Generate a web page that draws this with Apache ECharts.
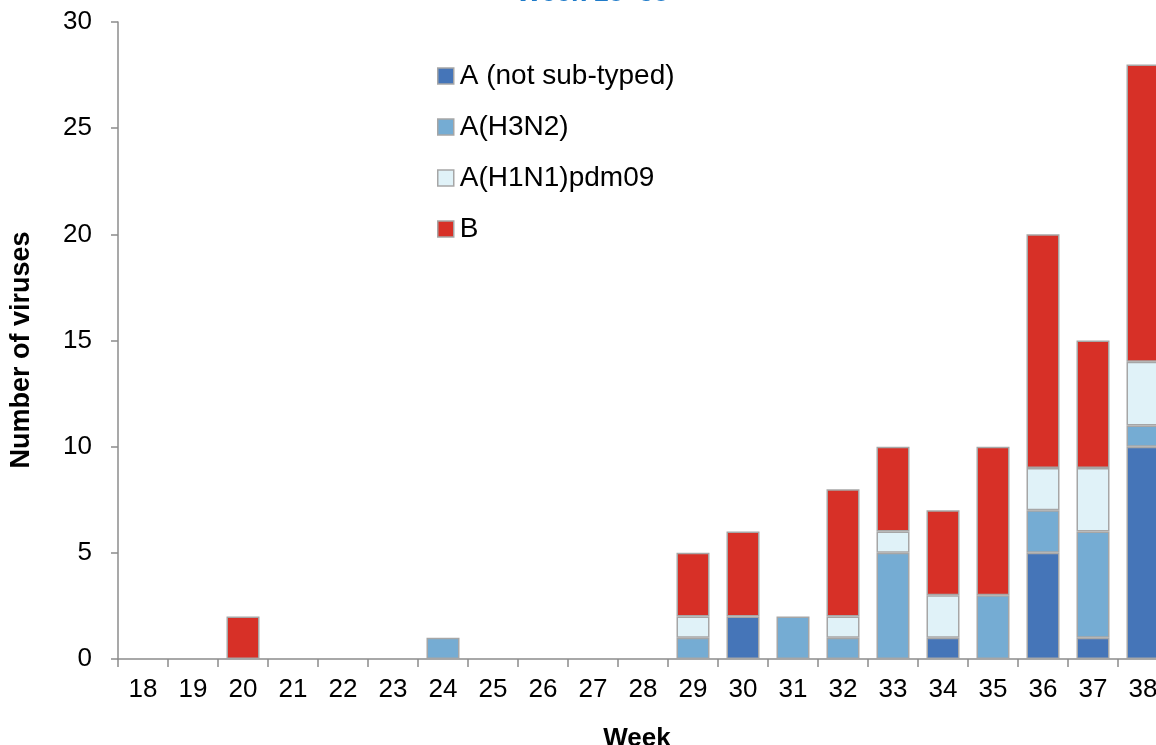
<!DOCTYPE html>
<html>
<head>
<meta charset="utf-8">
<script src="https://cdn.jsdelivr.net/npm/echarts@6/dist/echarts.min.js"></script>
<style>html,body{margin:0;padding:0;background:#fff}#c{width:1156px;height:745px}</style>
</head>
<body>
<div id="c"></div>
<script>
var weeks = ['18','19','20','21','22','23','24','25','26','27','28','29','30','31','32','33','34','35','36','37','38'];
var seriesNames = ['A (not sub-typed)', 'A(H3N2)', 'A(H1N1)pdm09', 'B'];
var aNotSubtyped = [0,0,0,0,0,0,0,0,0,0,0,0,2,0,0,0,1,0,5,1,10];
var aH3N2        = [0,0,0,0,0,0,1,0,0,0,0,1,0,2,1,5,0,3,2,5,1];
var aH1N1pdm09   = [0,0,0,0,0,0,0,0,0,0,0,1,0,0,1,1,2,0,2,3,3];
var bValues      = [0,0,2,0,0,0,0,0,0,0,0,3,4,0,6,4,4,7,11,6,14];
var yTicks = [0,5,10,15,20,25,30];

var colors = ['#4575B8', '#75ACD3', '#E0F2F8', '#D73027'];
var values = [aNotSubtyped, aH3N2, aH1N1pdm09, bValues];
var font = 'Liberation Sans, Arial, sans-serif';

var chart = echarts.init(document.getElementById('c'));
chart.setOption({
  animation: false,
  title: {
    text: 'Week 18\u201338',
    left: 511,
    top: -25,
    textStyle: { color: '#1F7BC9', fontSize: 27, fontWeight: 'bold', fontFamily: font }
  },
  legend: {
    orient: 'vertical',
    left: 432,
    top: 57,
    itemWidth: 16,
    itemHeight: 16,
    itemGap: 23,
    icon: 'rect',
    itemStyle: { borderColor: '#A6A6A6', borderWidth: 1.5 },
    textStyle: { color: '#000', fontSize: 28, fontFamily: font, padding: [0,0,0,1] },
    data: seriesNames
  },
  grid: { left: 118, top: 22, right: -12, bottom: 86, containLabel: false, outerBoundsMode: 'none' },
  xAxis: {
    type: 'category',
    data: weeks,
    name: 'Week',
    nameLocation: 'middle',
    nameGap: 67,
    nameTextStyle: { color: '#000', fontSize: 26, fontWeight: 'bold', fontFamily: font, padding: [0,12,0,0] },
    axisLine: { lineStyle: { color: '#8C8C8C', width: 1.5 } },
    axisTick: { show: true, length: 8, alignWithLabel: false, lineStyle: { color: '#8C8C8C', width: 1.5 } },
    axisLabel: { color: '#000', fontSize: 26, fontFamily: font, margin: 18 }
  },
  yAxis: {
    type: 'value',
    min: 0,
    max: 30,
    interval: 5,
    axisLine: { show: true, lineStyle: { color: '#8C8C8C', width: 1.5 } },
    axisTick: { show: true, length: 7, lineStyle: { color: '#8C8C8C', width: 1.5 } },
    splitLine: { show: false },
    axisLabel: {
      color: '#000', fontSize: 26, fontFamily: font, margin: 26,
      formatter: function (v) { return yTicks.indexOf(v) >= 0 ? String(v) : ''; }
    }
  },
  graphic: [{
    type: 'text',
    x: 22,
    y: 350,
    rotation: Math.PI / 2,
    style: { text: 'Number of viruses', fill: '#000', font: 'bold 27px ' + font, textAlign: 'center', textVerticalAlign: 'middle' }
  }],
  series: seriesNames.map(function (n, i) {
    return {
      name: n,
      type: 'bar',
      stack: 'total',
      barWidth: 33,
      data: values[i].map(function (v) { return v === 0 ? null : v; }),
      itemStyle: { color: colors[i], borderColor: '#A6A6A6', borderWidth: 1.5 }
    };
  })
});
</script>
</body>
</html>
